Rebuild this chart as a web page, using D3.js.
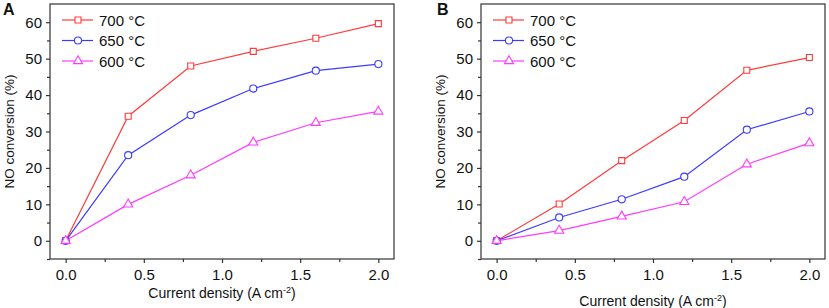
<!DOCTYPE html>
<html>
<head>
<meta charset="utf-8">
<script src="https://cdn.jsdelivr.net/npm/d3@7"></script>
<style>
  body { margin: 0; background: #fff; }
  svg { font-family: "Liberation Sans", Arial, sans-serif; }
</style>
</head>
<body>
<svg id="chart" width="829" height="308"></svg>
<script>
// current density values (A cm-2)
const currentDensity = [0, 0.4, 0.8, 1.2, 1.6, 2.0];
const temps = ["700 °C", "650 °C", "600 °C"];

// panel A
const convA700 = [0, 34.2, 48.0, 52.0, 55.6, 59.6];
const convA650 = [0, 23.5, 34.5, 41.8, 46.7, 48.5];
const convA600 = [0, 10.0, 18.0, 27.0, 32.4, 35.5];
// panel B
const convB700 = [0, 10.1, 22.0, 33.0, 46.8, 50.3];
const convB650 = [0, 6.4, 11.4, 17.6, 30.5, 35.5];
const convB600 = [0, 2.8, 6.7, 10.7, 21.0, 26.8];

const xTicks = [0, 0.5, 1.0, 1.5, 2.0];
const yTicks = [0, 10, 20, 30, 40, 50, 60];

const colors = ["#ff3b3b", "#3b3bff", "#ff3bff"];
const shapes = [d3.symbolSquare, d3.symbolCircle, d3.symbolTriangle];
const symSizes = [36, 40, 36];

let svg = d3.select("#chart")

function drawPanel(left, letter, letterX, series, xlabelY) {
    let width = 344, height = 255, top = 4
    let g = svg.append("g").attr("transform", "translate(" + left + "," + top + ")")

    let xscale = d3.scaleLinear().domain([-0.1, 2.1]).range([0, width])
    let yscale = d3.scaleLinear().domain([-5, 65]).range([height, 0])

    // frame
    g.append("rect")
        .attr("width", width).attr("height", height)
        .attr("fill", "none").attr("stroke", "#333").attr("stroke-width", 1.2)

    // minor ticks
    g.append("g")
        .attr("transform", "translate(0," + height + ")")
        .call(d3.axisBottom(xscale).tickValues(d3.range(0.25, 2.1, 0.5)).tickSize(3).tickFormat(""))
        .call(a => a.select(".domain").remove())
    g.append("g")
        .call(d3.axisLeft(yscale).tickValues(d3.range(-5, 65, 10)).tickSize(3).tickFormat(""))
        .call(a => a.select(".domain").remove())

    // major ticks
    let xa = g.append("g")
        .attr("transform", "translate(0," + height + ")")
        .call(d3.axisBottom(xscale).tickValues(xTicks).tickSize(4).tickPadding(6).tickFormat(d3.format(".1f")))
    xa.select(".domain").remove()
    let ya = g.append("g")
        .call(d3.axisLeft(yscale).tickValues(yTicks).tickSize(4).tickPadding(4))
    ya.select(".domain").remove()
    g.selectAll(".tick line").attr("stroke", "#333").attr("stroke-width", 1.2)
    g.selectAll(".tick text").attr("font-size", 15).attr("fill", "#111").attr("font-family", "Liberation Sans, Arial, sans-serif")

    // axis titles
    let xt = g.append("text")
        .attr("x", width / 2).attr("y", xlabelY)
        .attr("text-anchor", "middle").attr("font-size", 14).attr("fill", "#111")
        .text("Current density (A cm")
    xt.append("tspan").attr("dy", -5).attr("font-size", 9).text("-2")
    xt.append("tspan").attr("dy", 5).text(")")

    g.append("text")
        .attr("transform", "translate(" + (-36) + "," + (height / 2) + ") rotate(-90)")
        .attr("text-anchor", "middle").attr("font-size", 13.5).attr("fill", "#111")
        .text("NO conversion (%)")

    // panel letter
    svg.append("text")
        .attr("x", letterX).attr("y", 15)
        .attr("font-size", 16).attr("font-weight", "bold").attr("fill", "#111")
        .text(letter)

    let line = d3.line().x((d, i) => xscale(currentDensity[i])).y(d => yscale(d))

    series.forEach((vals, k) => {
        g.append("path")
            .datum(vals)
            .attr("d", line)
            .attr("fill", "none").attr("stroke", colors[k]).attr("stroke-width", 1.2)
        g.selectAll("path.m" + k).data(vals).enter().append("path")
            .attr("class", "m" + k)
            .attr("transform", (d, i) => "translate(" + xscale(currentDensity[i]) + "," + yscale(d) + ")")
            .attr("d", d3.symbol().type(shapes[k]).size(symSizes[k]))
            .attr("fill", "#fff").attr("stroke", colors[k]).attr("stroke-width", 1.1)
    })

    // legend
    temps.forEach((t, k) => {
        let ly = 16 + k * 20.5
        g.append("line")
            .attr("x1", 12).attr("x2", 43).attr("y1", ly).attr("y2", ly)
            .attr("stroke", colors[k]).attr("stroke-width", 1.2)
        g.append("path")
            .attr("transform", "translate(28," + ly + ")")
            .attr("d", d3.symbol().type(shapes[k]).size(symSizes[k]))
            .attr("fill", "#fff").attr("stroke", colors[k]).attr("stroke-width", 1.1)
        g.append("text")
            .attr("x", 49).attr("y", ly + 5.5)
            .attr("font-size", 15).attr("fill", "#111")
            .text(t)
    })
}

drawPanel(50, "A", 3, [convA700, convA650, convA600], 294)
drawPanel(481, "B", 437, [convB700, convB650, convB600], 302)
</script>
</body>
</html>
